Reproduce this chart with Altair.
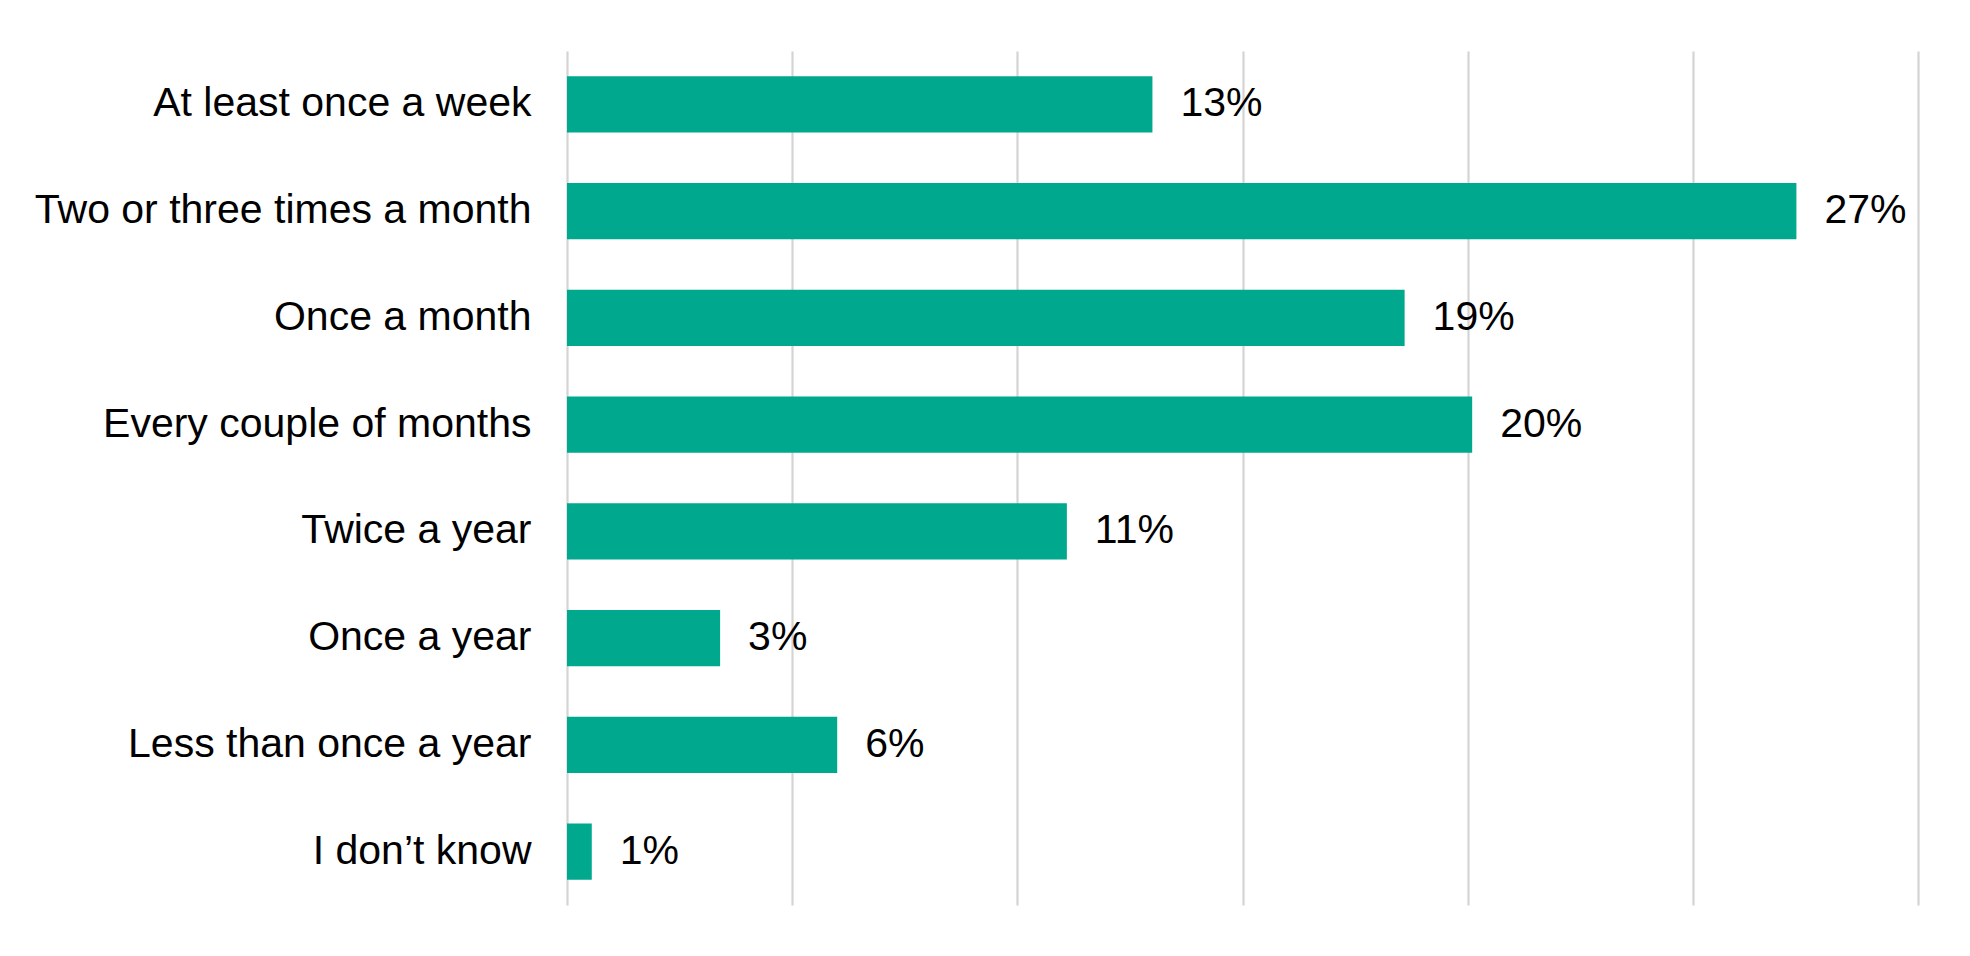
import altair as alt
import pandas as pd

categories = [
    "At least once a week",
    "Two or three times a month",
    "Once a month",
    "Every couple of months",
    "Twice a year",
    "Once a year",
    "Less than once a year",
    "I don\u2019t know",
]
values = [13.0, 27.3, 18.6, 20.1, 11.1, 3.4, 6.0, 0.55]
x_ticks = [0, 5, 10, 15, 20, 25, 30]

df = pd.DataFrame({"cat": categories, "val": values})
df["label"] = [f"{round(v):d}%" for v in values]

FONT = "Liberation Sans"
COLOR = "#00A88E"

y_enc = alt.Y(
    "cat:N",
    sort=categories,
    title=None,
    scale=alt.Scale(paddingInner=0.475, paddingOuter=0.2375),
    axis=alt.Axis(
        domain=False,
        ticks=False,
        tickSize=0,
        grid=False,
        labelFont=FONT,
        labelFontSize=41,
        labelColor="#000000",
        labelPadding=36,
        labelLimit=1000,
    ),
)
x_enc = alt.X(
    "val:Q",
    title=None,
    scale=alt.Scale(domain=[0, 30], nice=False),
    axis=alt.Axis(
        values=x_ticks,
        labels=False,
        domain=False,
        ticks=False,
        grid=True,
        gridColor="#D4D4D4",
        gridWidth=2.2,
    ),
)

bars = alt.Chart(df).mark_bar(color=COLOR).encode(x=x_enc, y=y_enc)
text = alt.Chart(df).mark_text(
    align="left", baseline="middle", dx=28, font=FONT, fontSize=41, color="#000000"
).encode(x="val:Q", y=alt.Y("cat:N", sort=categories), text="label:N")

chart = (
    alt.layer(bars, text)
    .properties(
        width=1351,
        height=854,
        autosize=alt.AutoSizeParams(type="none"),
        padding={"left": 559, "top": 43, "right": 30, "bottom": 40},
        view=alt.ViewBackground(stroke="transparent", strokeWidth=0),
    )
    .configure_view(strokeWidth=0, stroke="transparent")
    .configure_axis(domain=False)
    .configure(background="#FFFFFF")
)

chart.save("out.html", embed_options={"renderer": "svg", "actions": False})
